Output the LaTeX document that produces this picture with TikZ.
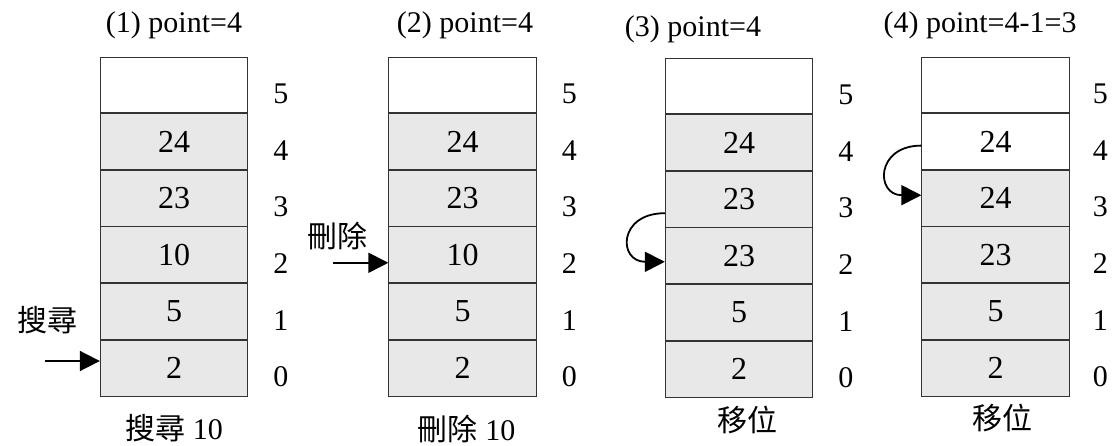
\documentclass[tikz,border=0pt]{standalone}
\usepackage{fontspec}
\setmainfont{Liberation Serif}
\newfontfamily\cjk{Noto Sans CJK TC}
\usetikzlibrary{positioning,arrows.meta}
\definecolor{cellgray}{RGB}{232,232,232}

\begin{document}
\begin{tikzpicture}[x=1pt, y=-1pt,
					font=\fontsize{30}{36}\selectfont,
					cell/.style={rectangle,draw=black!80,line width=0.8pt,fill=cellgray,
					             minimum width=147.5pt,minimum height=55.8pt,inner sep=0pt,
					             font=\fontsize{32}{38}\selectfont},
					empty cell/.style={cell,fill=white},
					index/.style={inner sep=0pt,yshift=-9pt},
					caption/.style={inner sep=0pt},
					pointer/.style={-{Triangle[length=20pt,width=20pt]},line width=1.8pt}]

  \useasboundingbox (0,0) rectangle (1115,446);

  % (1) search
  \node[empty cell] (a5) at (174,85) {};
  \node[cell] (a4) [below=0pt of a5] {24};
  \node[cell] (a3) [below=0pt of a4] {23};
  \node[cell] (a2) [below=0pt of a3] {10};
  \node[cell] (a1) [below=0pt of a2] {5};
  \node[cell] (a0) [below=0pt of a1] {2};

  % (2) delete
  \node[empty cell] (b5) at (462.5,85) {};
  \node[cell] (b4) [below=0pt of b5] {24};
  \node[cell] (b3) [below=0pt of b4] {23};
  \node[cell] (b2) [below=0pt of b3] {10};
  \node[cell] (b1) [below=0pt of b2] {5};
  \node[cell] (b0) [below=0pt of b1] {2};

  % (3) shift
  \node[empty cell] (c5) at (739,86) {};
  \node[cell] (c4) [below=0pt of c5] {24};
  \node[cell] (c3) [below=0pt of c4] {23};
  \node[cell] (c2) [below=0pt of c3] {23};
  \node[cell] (c1) [below=0pt of c2] {5};
  \node[cell] (c0) [below=0pt of c1] {2};

  % (4) shift
  \node[empty cell] (d5) at (995.5,85) {};
  \node[empty cell] (d4) [below=0pt of d5] {24};
  \node[cell] (d3) [below=0pt of d4] {24};
  \node[cell] (d2) [below=0pt of d3] {23};
  \node[cell] (d1) [below=0pt of d2] {5};
  \node[cell] (d0) [below=0pt of d1] {2};

  % indices
  \foreach \s in {a,b,c}
    \foreach \i in {0,...,5}
      \node[index] (i\s\i) [right=25pt of \s\i] {\i};
  \foreach \i in {0,...,5}
    \node[index] (id\i) [right=23pt of d\i] {\i};

  % titles
  \node[caption] (t1) [above=17.5pt of a5] {(1) point=4};
  \node[caption] (t2) [above=17.5pt of b5, xshift=2.5pt] {(2) point=4};
  \node[caption] (t3) [above=14.5pt of c5, xshift=-46pt] {(3) point=4};
  \node[caption] (t4) [above=17.5pt of d5, xshift=-15.5pt] {(4) point=4-1=3};

  % captions below
  \node[caption] (u1) [below=18pt of a0] {{\cjk 搜尋} 10};
  \node[caption] (u2) [below=19pt of b0, xshift=4pt] {{\cjk 刪除} 10};
  \node[caption] (u3) [below=9pt of c0, xshift=8pt] {\cjk 移位};
  \node[caption] (u4) [below=8pt of d0, xshift=7pt] {\cjk 移位};

  % pointers
  \coordinate (s1) at ([xshift=-55pt,yshift=7pt]a0.west);
  \node[caption] (search) [above=27pt of s1, xshift=3pt] {\cjk 搜尋};
  \draw[pointer] (s1) -- ([yshift=7pt]a0.west);

  \coordinate (s2) at ([xshift=-55pt,yshift=-8pt]b2.west);
  \node[caption] (delete) [above=13pt of s2, xshift=4pt] {\cjk 刪除};
  \draw[pointer] (s2) -- ([yshift=-8pt]b2.west);

  \draw[pointer] ([yshift=-14pt]c3.west) .. controls +(-47,0) and +(-47,0) .. ([yshift=-6pt]c2.west);
  \draw[pointer] ([yshift=-4pt]d4.west) .. controls +(-46,0) and +(-46,0) .. ([yshift=3pt]d3.west);
\end{tikzpicture}
\end{document}
